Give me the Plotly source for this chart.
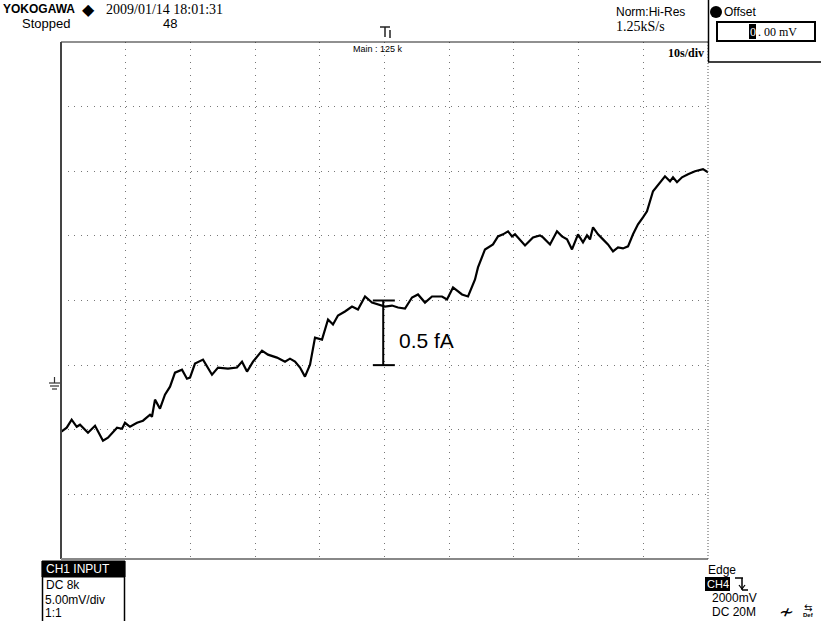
import plotly.graph_objects as go

# ---- data (time in s, signal in mV; 10 s/div, 5 mV/div) ----
time_s = [0, 0.88, 1.65, 2.43, 2.94, 4.17, 5.26, 5.72, 6.49, 7.26, 8.66, 9.43, 9.89,
          10.66, 11.75, 12.67, 13.76, 14.06, 14.53, 15.30, 16.07, 16.85, 17.62, 18.70,
          19.47, 19.94, 20.71, 21.95, 23.34, 24.27, 25.81, 27.20, 27.98, 28.75, 29.68,
          31.07, 31.99, 33.38, 34.62, 35.39, 36.17, 36.94, 37.71, 38.49, 39.26, 40.34,
          41.27, 42.04, 42.81, 43.89, 44.98, 45.90, 46.99, 48.07, 48.99, 50.08, 51.16,
          52.09, 53.17, 54.25, 55.18, 56.26, 57.34, 58.89, 59.66, 60.59, 61.98, 62.91,
          63.99, 64.45, 65.53, 66.00, 66.77, 67.54, 68.32, 69.09, 69.71, 70.17, 70.94,
          71.72, 72.95, 74.03, 74.50, 75.58, 76.66, 77.43, 78.21, 78.98, 79.91, 80.68,
          81.30, 81.76, 82.23, 83.00, 83.77, 84.54, 85.32, 86.09, 86.86, 87.64, 88.41,
          89.18, 89.95, 90.57, 91.50, 92.12, 93.35, 94.13, 94.59, 95.21, 95.98, 96.91,
          97.99, 99.23, 100]
signal_mv = [-10.16, -9.84, -9.22, -9.77, -9.61, -10.23, -9.69, -10.16, -10.85, -10.62,
             -9.84, -9.92, -9.46, -9.77, -9.46, -9.30, -8.84, -8.99, -7.67, -8.37, -7.29,
             -6.67, -5.58, -5.35, -6.05, -5.97, -4.88, -4.57, -5.74, -5.19, -5.27, -5.19,
             -4.73, -5.50, -4.73, -3.88, -4.19, -4.42, -4.73, -4.50, -4.73, -5.19, -5.89,
             -4.96, -2.87, -3.02, -1.47, -1.86, -1.16, -0.85, -0.47, -0.70, 0.31, -0.16,
             -0.31, -0.47, -0.39, -0.54, -0.62, 0.23, 0.47, -0.16, 0.31, 0.31, 0.08, 1.01,
             0.47, 0.31, 1.63, 2.56, 3.95, 4.11, 4.34, 4.96, 5.12, 5.35, 4.96, 5.12, 4.73,
             4.26, 4.88, 5.04, 4.88, 4.34, 5.35, 4.96, 4.73, 3.95, 5.12, 4.50, 5.04, 4.73,
             5.66, 5.12, 4.73, 4.34, 3.80, 4.11, 4.03, 4.19, 5.12, 5.89, 6.43, 6.90, 8.45,
             8.84, 9.61, 9.22, 9.53, 9.15, 9.53, 9.77, 10.00, 10.16, 9.92]

x_range = [0, 100]
y_range = [-20, 20]
scale_bar_t = 49.8
scale_bar_mv = [-5, 0]

W, H = 821, 621
L, R, T, B = 61, 708, 42, 559


def px(x):
    return (x - L) / (R - L)


def py(y):
    return (B - y) / (B - T)


fig = go.Figure()
fig.add_trace(go.Scatter(x=time_s, y=signal_mv, mode="lines",
                         line=dict(color="black", width=2.2), hoverinfo="skip"))

shapes = []


def pline(x0, y0, x1, y1, color="black", width=1, dash="solid"):
    shapes.append(dict(type="line", xref="paper", yref="paper",
                       x0=px(x0), y0=py(y0), x1=px(x1), y1=py(y1),
                       line=dict(color=color, width=width, dash=dash)))


def prect(x0, y0, x1, y1, fill=None, color="black", width=1):
    shapes.append(dict(type="rect", xref="paper", yref="paper",
                       x0=px(x0), y0=py(y0), x1=px(x1), y1=py(y1),
                       fillcolor=fill if fill else "rgba(0,0,0,0)",
                       line=dict(color=color, width=width)))


# frame
pline(61, 42, 708, 42, "#222", 1.2)
pline(61, 42, 61, 559, "#444", 2)
pline(61, 559, 708, 559, "#888", 2)
pline(708, 42, 708, 559, "#555", 1, "1px,2px")
# offset panel
pline(708.5, 0, 708.5, 62, "black", 1.5)
pline(708, 62, 821, 62, "black", 1.5)
prect(717, 22, 815, 41, None, "black", 2)
prect(749, 24, 756, 39, "black", "black", 0)
shapes.append(dict(type="circle", xref="paper", yref="paper",
                   x0=px(710), y0=py(6), x1=px(722), y1=py(18),
                   fillcolor="black", line=dict(color="black", width=0)))
# CH1 box
prect(42, 561, 125, 577, "black", "black", 1)
pline(42.5, 561, 42.5, 621, "black", 1.5)
pline(124.5, 561, 124.5, 621, "black", 1.5)
# CH4 highlight
shapes.append(dict(type="rect", xref="paper", yref="paper",
                   x0=px(705), y0=py(577), x1=px(730), y1=py(591),
                   fillcolor="black", line=dict(color="black", width=0)))
# falling edge symbol
pline(735, 578, 743, 578, "black", 1.5)
pline(742, 578, 742, 590, "black", 1.5)
pline(742, 590, 748, 590, "black", 1.5)
pline(739, 585, 742, 589, "black", 1.2)
pline(745, 585, 742, 589, "black", 1.2)
# ground marker
pline(49, 383, 60, 383, "#333", 1.2)
pline(54.5, 377, 54.5, 383, "#333", 1.2)
pline(50, 386, 59, 386, "#333", 1.2)
pline(52, 389, 57, 389, "#333", 1.2)
# trigger marker
pline(380, 27, 390, 27, "#222", 1.5)
pline(385, 27, 385, 37, "#222", 1.5)
pline(390, 30, 390, 38, "#222", 1.5)

# scale bar (data coords)
for yv in scale_bar_mv:
    shapes.append(dict(type="line", xref="x", yref="y",
                       x0=scale_bar_t - 1.6, x1=scale_bar_t + 1.8, y0=yv, y1=yv,
                       line=dict(color="black", width=2)))
shapes.append(dict(type="line", xref="x", yref="y",
                   x0=scale_bar_t, x1=scale_bar_t, y0=scale_bar_mv[0], y1=scale_bar_mv[1],
                   line=dict(color="black", width=2)))

ann = []


def ptext(x, y, text, size=13, family="Liberation Sans", color="black",
          anchor="left", bold=False):
    ann.append(dict(xref="paper", yref="paper", x=px(x), y=py(y),
                    text=("<b>%s</b>" % text) if bold else text,
                    showarrow=False, xanchor=anchor, yanchor="middle",
                    font=dict(size=size, family=family, color=color)))


ptext(1, 9, "YOKOGAWA", 12, "Liberation Sans", bold=True)
ptext(80, 9, "◆", 16, "DejaVu Sans")
ptext(104, 9, "2009/01/14 18:01:31", 14, "Liberation Serif")
ptext(20, 24, "Stopped", 13, "Liberation Sans")
ptext(161, 24, "48", 13, "Liberation Sans")
ptext(378, 49, "Main : 125 k", 9, "Liberation Sans", anchor="center")
ptext(614, 12, "Norm:Hi-Res", 12, "Liberation Sans")
ptext(614, 27, "1.25kS/s", 14, "Liberation Serif")
ptext(706, 53, "10s/div", 12, "Liberation Serif", anchor="right", bold=True)
ptext(722, 12, "Offset", 12, "Liberation Sans")
ptext(752.5, 31.5, "0", 12, "Liberation Serif", color="white", anchor="center")
ptext(756, 31.5, ". 00 mV", 12, "Liberation Serif")
ptext(44, 569, "CH1 INPUT", 12, "Liberation Sans", color="white")
ptext(44, 585, "DC 8k", 12, "Liberation Sans")
ptext(43, 600, "5.00mV/div", 12, "Liberation Sans")
ptext(43, 613, "1:1", 12, "Liberation Sans")
ptext(706, 570, "Edge", 12, "Liberation Sans")
ptext(717.5, 584, "CH4", 11, "Liberation Sans", color="white", anchor="center")
ptext(710, 598, "2000mV", 12, "Liberation Sans")
ptext(710, 612, "DC 20M", 12, "Liberation Sans")
ptext(777, 611, "≁", 18, "DejaVu Sans")
ptext(808, 607, "⇆", 10, "DejaVu Sans", anchor="center")
ptext(808, 615, "Def", 6, "Liberation Sans", anchor="center", bold=True)

ann.append(dict(xref="x", yref="y", x=scale_bar_t + 2.1, y=-3.1, text="0.5 fA",
                showarrow=False, xanchor="left", yanchor="middle",
                font=dict(size=21, family="Liberation Sans", color="black")))

axis_common = dict(showticklabels=False, ticks="", zeroline=False, showline=False,
                   showgrid=True, gridcolor="#777", gridwidth=1, griddash="1px,5.5px",
                   fixedrange=True)
fig.update_layout(
    width=W, height=H,
    margin=dict(l=L, r=W - R, t=T, b=H - B, pad=0),
    paper_bgcolor="white", plot_bgcolor="white",
    showlegend=False,
    xaxis=dict(range=x_range, dtick=10, tick0=0, **axis_common),
    yaxis=dict(range=y_range, dtick=5, tick0=0, **axis_common),
    shapes=shapes, annotations=ann,
)
fig.write_html("out.html", config={"displayModeBar": False},
               post_script="document.body.style.margin='0';document.body.style.overflow='hidden';")
